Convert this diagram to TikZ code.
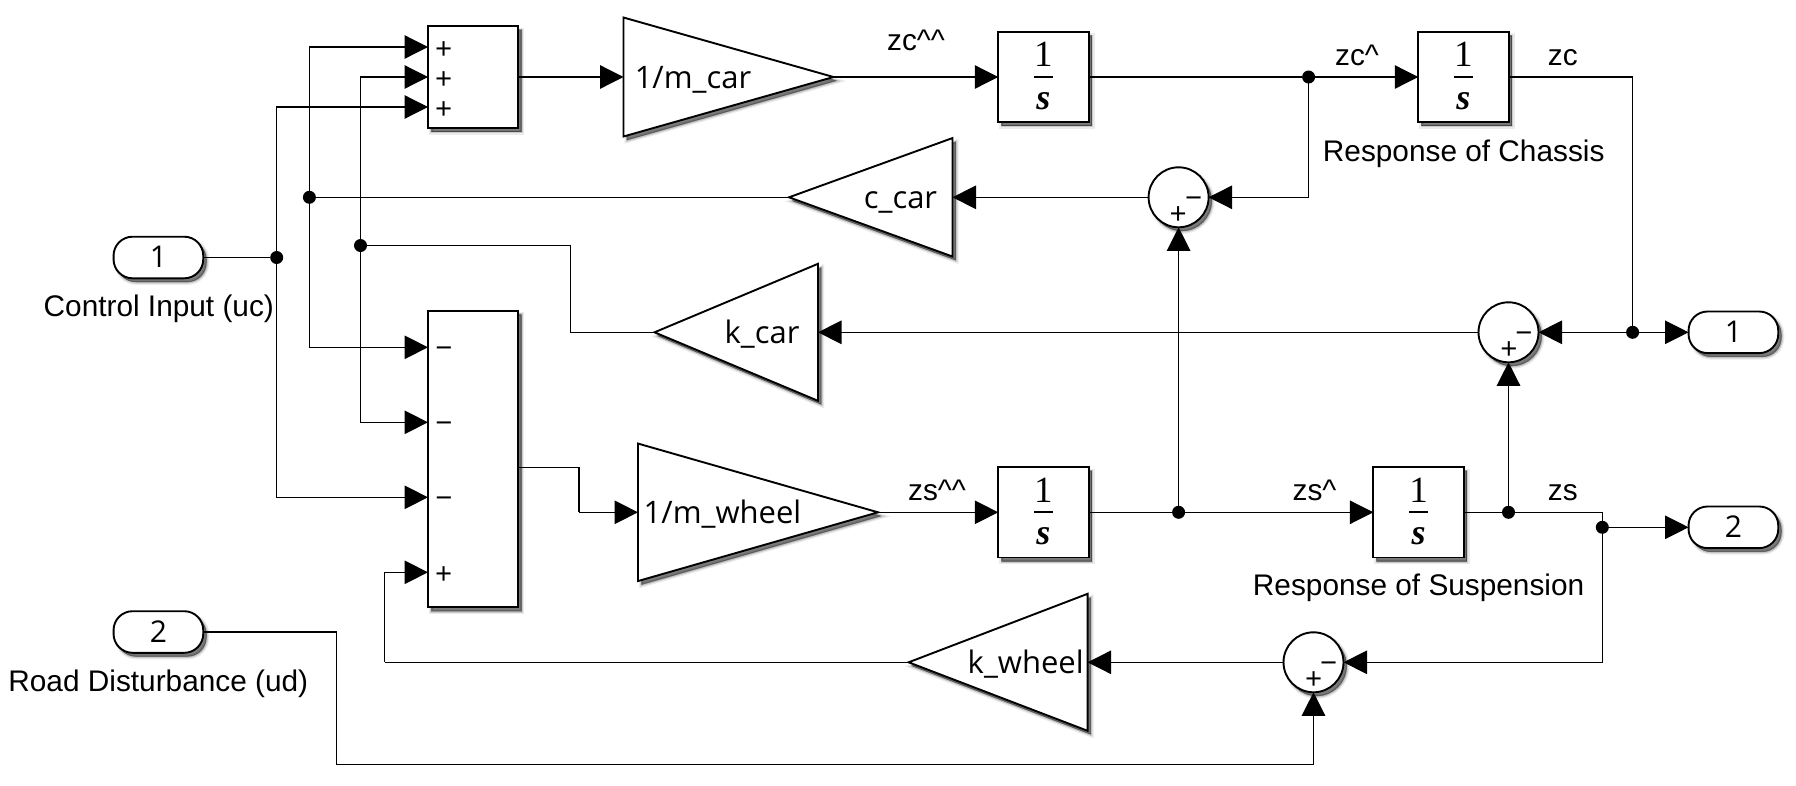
\documentclass[tikz,border=0pt]{standalone}
\usepackage{fontspec}
\setmainfont{Liberation Sans}
\newfontfamily\blockfont{Open Sans}
\newfontfamily\fracfont{Liberation Serif}
\usetikzlibrary{arrows.meta,shapes.geometric}
\tikzset{
  softshadow/.style={
    preaction={draw=black,fill=black,draw opacity=.08,fill opacity=.12,line width=5pt,transform canvas={shift={(3.5pt,-4pt)}}},
    preaction={draw=black,fill=black,draw opacity=.14,fill opacity=.20,line width=2.5pt,transform canvas={shift={(3.5pt,-4pt)}}},
    preaction={draw=black,fill=black,draw opacity=.25,fill opacity=.30,line width=.5pt,transform canvas={shift={(3pt,-3.5pt)}}}},
  blockstyle/.style={softshadow,draw=black,fill=white,line width=1.9pt,inner sep=0pt,outer sep=0pt},
  sumbox/.style={blockstyle,rectangle,minimum width=90pt},
  intbox/.style={blockstyle,rectangle,minimum width=90.3pt,minimum height=90.4pt},
  portbox/.style={blockstyle,rectangle,rounded corners=19pt,minimum width=89.7pt,minimum height=41.6pt},
  sumcircle/.style={blockstyle,circle,minimum size=60pt},
  gainR/.style={blockstyle,isosceles triangle,isosceles triangle stretches,anchor=apex},
  gainL/.style={gainR,shape border rotate=180},
  junc/.style={circle,fill=black,minimum size=13pt,inner sep=0pt,outer sep=0pt},
  wire/.style={draw=black,line width=1.3pt},
  sig/.style={wire,-{Triangle[length=23.5pt,width=23.5pt]}},
  lbl/.style={font=\fontsize{29.8}{34}\selectfont,anchor=base,inner sep=0pt},
  blocktext/.style={font=\blockfont\fontsize{31}{34}\selectfont,anchor=base,inner sep=0pt},
  signtext/.style={font=\blockfont\fontsize{30}{34}\selectfont,anchor=base,inner sep=0pt},
  fractext/.style={font=\fracfont\fontsize{37}{40}\selectfont,anchor=base,inner sep=0pt},
  fracvar/.style={font=\fracfont\bfseries\itshape\fontsize{36}{40}\selectfont,anchor=base,inner sep=0pt},
  fracbar/.style={draw=black,line width=2.2pt},
}
\newcommand{\intblock}[3]{%
  \node[intbox] (#1) at (#2,#3) {};
  \node[fractext] (#1num) at ([yshift=10.3pt]#1.center) {1};
  \node[fracvar] (#1den) at ([yshift=-32.3pt]#1.center) {s};
  \coordinate (#1barL) at ([xshift=-9.2pt]#1.center);
  \coordinate (#1barR) at ([xshift=9.2pt]#1.center);
  \draw[fracbar] (#1barL) -- (#1barR);
}
\begin{document}
\begin{tikzpicture}[x=1pt,y=-1pt]
\useasboundingbox (0,0) rectangle (1796,785);
% ports
\node[portbox] (in1) at (158.4,257.5) {};
\node[portbox] (in2) at (158.4,632) {};
\node[portbox] (out1) at (1733.4,332.3) {};
\node[portbox] (out2) at (1733.4,527.3) {};
% sums
\node[sumbox,minimum height=102pt] (sumT) at (473,77) {};
\node[sumbox,minimum height=296.6pt] (sumL) at (473,459) {};
\node[sumcircle] (sumA) at (1178.6,197.3) {};
\node[sumcircle] (sumB) at (1508.5,332.3) {};
\node[sumcircle] (sumC) at (1313.5,662.3) {};
% gains
\node[gainR,minimum height=210pt,minimum width=119pt] (gainM) at (833.5,77) {};
\node[gainL,minimum height=163.5pt,minimum width=118.5pt] (gainC) at (789,197.3) {};
\node[gainL,minimum height=163.5pt,minimum width=137pt] (gainK) at (654.5,332.3) {};
\node[gainR,minimum height=240pt,minimum width=137.5pt] (gainW) at (878,512.3) {};
\node[gainL,minimum height=179pt,minimum width=137pt] (gainS) at (908.6,662.3) {};
% integrators
\intblock{intA}{1043.4}{77}
\intblock{intB}{1463.4}{77}
\intblock{intC}{1043.4}{512.3}
\intblock{intD}{1418.5}{512.3}
% junctions
\node[junc] (juA) at (276.7,257.5) {};
\node[junc] (juB) at (309.4,197.3) {};
\node[junc] (juC) at (360.5,245.5) {};
\node[junc] (juD) at (1308.6,77) {};
\node[junc] (juE) at (1632.6,332.3) {};
\node[junc] (juF) at (1178.6,512.3) {};
\node[junc] (juG) at (1508.5,512.3) {};
\node[junc] (juH) at (1602.3,527.3) {};
% port and bend points
\coordinate (pT1) at (428,47);
\coordinate (pT2) at (428,77);
\coordinate (pT3) at (428,107);
\coordinate (pL1) at (428,347.3);
\coordinate (pL2) at (428,422.3);
\coordinate (pL3) at (428,497.3);
\coordinate (pL4) at (428,572.3);
\coordinate (pLout) at (518,467.3);
\coordinate (bendW) at (579,512.3);
\coordinate (bendK) at (570.6,332.3);
\coordinate (bendS) at (384.6,662.3);
\coordinate (bendR) at (336.4,764.3);
% connectors
\draw[wire] (in1.east) -- (juA);
\draw[sig] (juA.center) |- (pT3);
\draw[sig] (juA.center) |- (pL3);
\draw[sig] (juB.center) |- (pT1);
\draw[sig] (juB.center) |- (pL1);
\draw[sig] (juC.center) |- (pT2);
\draw[sig] (juC.center) |- (pL2);
\draw[sig] (sumT.east) -- (gainM.lower side);
\draw[sig] (gainM.apex) -- (intA.west);
\draw[wire] (intA.east) -- (juD);
\draw[sig] (juD.center) -- (intB.west);
\draw[sig] (juD.center) |- (sumA.east);
\draw[sig] (sumA.west) -- (gainC.lower side);
\draw[wire] (gainC.apex) -- (juB);
\draw[wire] (intB.east) -| (juE.center);
\draw[sig] (juE.center) -- (sumB.east);
\draw[sig] (juE.center) -- (out1.west);
\draw[sig] (sumB.west) -- (gainK.lower side);
\draw[wire] (gainK.apex) -- (bendK) |- (juC.center);
\draw[wire] (pLout) -| (bendW);
\draw[sig] (bendW) -- (gainW.lower side);
\draw[sig] (gainW.apex) -- (intC.west);
\draw[wire] (intC.east) -- (juF);
\draw[sig] (juF.center) -- (intD.west);
\draw[sig] (juF.center) -- (sumA.south);
\draw[wire] (intD.east) -- (juG);
\draw[sig] (juG.center) -- (sumB.south);
\draw[wire] (juG.center) -| (juH.center);
\draw[sig] (juH.center) -- (out2.west);
\draw[sig] (juH.center) |- (sumC.east);
\draw[sig] (sumC.west) -- (gainS.lower side);
\draw[wire] (gainS.apex) -- (bendS);
\draw[sig] (bendS) |- (pL4);
\draw[wire] (in2.east) -| (bendR);
\draw[sig] (bendR) -| (sumC.south);
% port numbers
\node[signtext] (in1t) at (158.4,267.7) {1};
\node[signtext] (in2t) at (158.4,642) {2};
\node[signtext] (out1t) at (1733.4,342.3) {1};
\node[signtext] (out2t) at (1733.4,537.3) {2};
% gain texts
\node[blocktext] (gainMt) at (693,88) {1/m\_car};
\node[blocktext] (gainCt) at (900.5,208.3) {c\_car};
\node[blocktext] (gainKt) at (762,343.3) {k\_car};
\node[blocktext] (gainWt) at (722.5,523.3) {1/m\_wheel};
\node[blocktext] (gainSt) at (1025.7,673.3) {k\_wheel};
% signs
\node[signtext] (sT1) at (443.7,59.5) {+};
\node[signtext] (sT2) at (443.7,89.5) {+};
\node[signtext] (sT3) at (443.7,119.5) {+};
\node[signtext] (sL1) at (444,358) {−};
\node[signtext] (sL2) at (444,433) {−};
\node[signtext] (sL3) at (444,508) {−};
\node[signtext] (sL4) at (443.7,584.5) {+};
\node[signtext] (sA1) at (1193.7,208) {−};
\node[signtext] (sA2) at (1178.3,224) {+};
\node[signtext] (sB1) at (1524,343) {−};
\node[signtext] (sB2) at (1509,359) {+};
\node[signtext] (sC1) at (1328.6,673) {−};
\node[signtext] (sC2) at (1313.7,689) {+};
% labels
\node[lbl] (l1) at (158.8,316.7) {Control Input (uc)};
\node[lbl] (l2) at (158.3,691.7) {Road Disturbance (ud)};
\node[lbl] (l3) at (916,50) {zc\textasciicircum\textasciicircum};
\node[lbl] (l4) at (1357,65) {zc\textasciicircum};
\node[lbl] (l5) at (1562.8,65) {zc};
\node[lbl] (l6) at (1463.7,161) {Response of Chassis};
\node[lbl] (l7) at (937,500) {zs\textasciicircum\textasciicircum};
\node[lbl] (l8) at (1314.5,500) {zs\textasciicircum};
\node[lbl] (l9) at (1562.8,500) {zs};
\node[lbl] (l10) at (1418.6,595.7) {Response of Suspension};
\end{tikzpicture}
\end{document}
